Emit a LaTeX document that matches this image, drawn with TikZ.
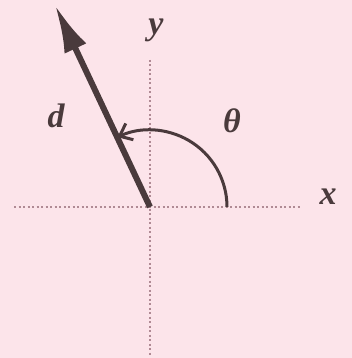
\documentclass[tikz,border=0pt]{standalone}
\usepackage{fontspec}
\setmainfont{Liberation Serif}
\usetikzlibrary{arrows.meta}
\definecolor{bgpink}{HTML}{FCE4EA}
\definecolor{ink}{HTML}{4A3A3C}
\definecolor{dotc}{HTML}{B08A94}
\begin{document}
\begin{tikzpicture}[x=1pt,y=-1pt,
  axis/.style={dotc, line width=2pt, dash pattern=on 2pt off 2.5pt},
  vec/.style={ink, line width=6pt, -{Latex[length=48pt,width=24pt]}},
  arcline/.style={ink, line width=3pt, -{Straight Barb[length=11pt,width=18pt]}},
  lab/.style={ink, font=\fontsize{34}{34}\selectfont\bfseries\itshape}]
\fill[bgpink] (0,0) rectangle (352,358);
\useasboundingbox (0,0) rectangle (352,358);
\coordinate (o) at (150,207);
\coordinate (xl) at (14,207);
\coordinate (xr) at (300,207);
\coordinate (yt) at (150,60);
\coordinate (yb) at (150,356);
\coordinate (tip) at (55,5);
\draw[axis] (xl) -- (xr);
\draw[axis] (yt) -- (yb);
\draw[vec] (o) -- (tip);
\draw[arcline] ([shift={(0:77)}]o) arc[start angle=0, end angle=-115, radius=77];
\node[lab] (ylab) at (156,30) {y};
\node[lab] (xlab) at (328,197) {x};
\node[lab] (dlab) at (56,116) {d};
\node[lab] (tlab) at (232,121) {θ};
\end{tikzpicture}
\end{document}
